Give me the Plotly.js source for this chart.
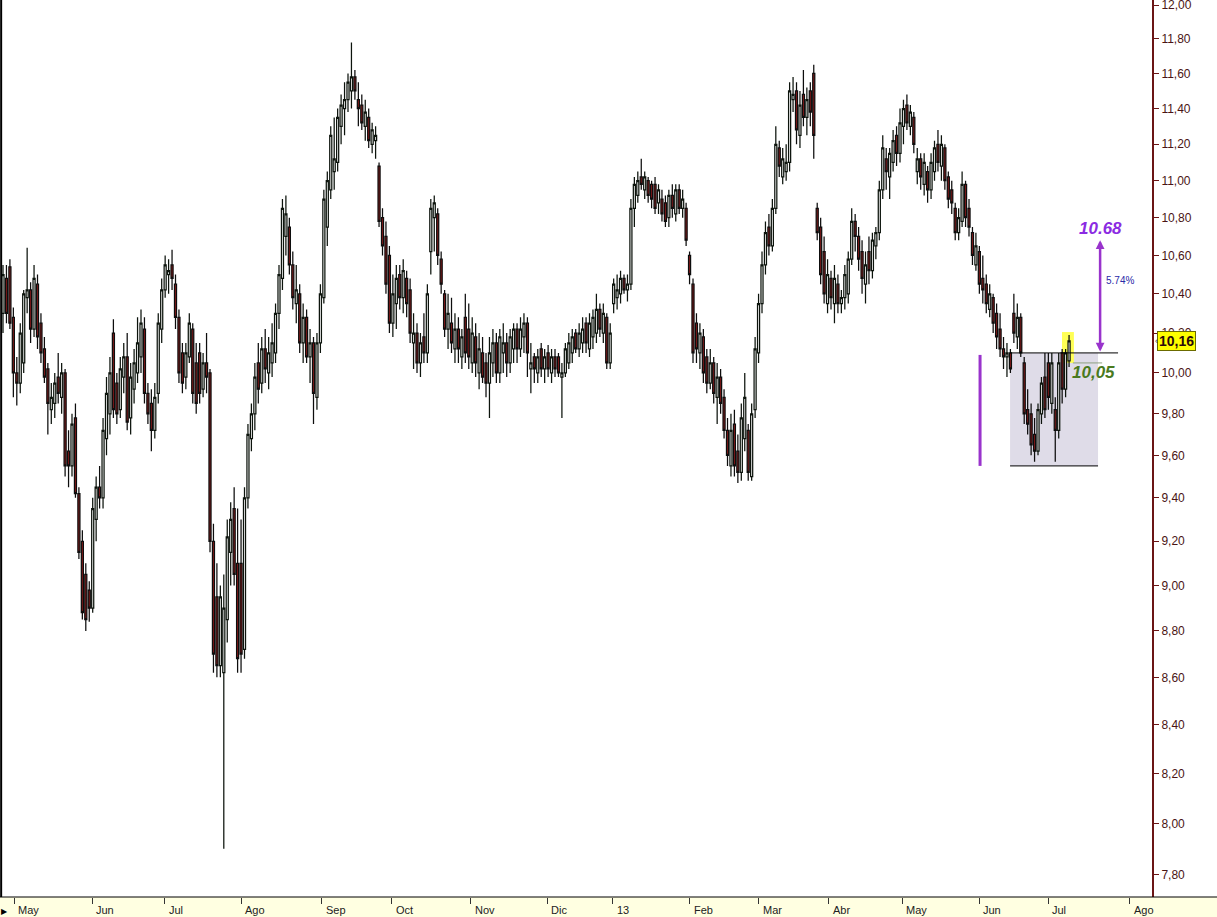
<!DOCTYPE html>
<html><head><meta charset="utf-8">
<script src="https://cdn.plot.ly/plotly-3.0.1.min.js"></script>
<style>html,body{margin:0;padding:0;background:#fff;}#chart{width:1217px;height:917px;}</style>
</head><body><div id="chart"></div>
<script>
// ---- DATA (daily candles, late Apr 2012 .. Jul 2013) ----
const opens = [
 10.30,10.48,10.54,
 10.28,10.00,9.95,10.05,10.38,10.42,10.22,10.45,10.25,10.12,10.02,9.82,9.85,9.98,9.88,10.00,9.62,9.55,9.78,9.42,9.20,9.05,8.98,
 8.90,9.30,9.45,9.40,9.68,9.80,10.20,9.95,9.82,9.98,10.08,9.78,9.92,10.00,10.08,10.22,9.90,9.85,9.72,9.90,10.22,
 10.42,10.50,10.55,10.45,10.28,10.10,9.98,10.08,10.22,10.05,10.10,9.92,10.05,10.00,9.20,8.95,8.65,8.62,8.85,9.15,9.35,9.10,
 9.10,8.72,9.40,9.68,9.80,10.05,9.95,10.12,10.00,10.05,10.10,10.30,10.48,10.70,10.75,10.55,10.35,10.40,10.15,10.28,10.08,10.15,9.88,
 10.15,10.38,10.75,10.95,11.05,11.10,11.30,11.40,11.45,11.50,11.58,11.45,11.42,11.30,11.35,11.20,11.22,11.08,10.80,10.70,
 10.60,10.25,10.35,10.50,10.38,10.48,10.42,10.15,10.20,10.05,10.18,10.10,10.62,10.80,10.82,10.58,10.40,10.22,10.25,10.12,10.22,10.08,10.28,
 10.22,10.05,10.18,10.00,10.10,10.05,9.95,10.05,10.15,10.00,10.10,10.15,10.05,10.12,10.22,10.12,10.18,10.25,10.02,10.08,10.00,10.12,10.02,
 10.10,10.00,10.08,10.08,9.98,10.00,10.05,10.10,10.20,10.12,10.15,10.25,10.12,10.18,10.20,10.32,10.20,10.28,10.05,
 10.35,10.38,10.40,10.48,10.42,10.45,10.85,10.92,11.02,10.95,11.00,10.98,10.98,10.88,10.90,10.88,10.80,10.92,10.82,10.95,10.85,10.85,
 10.60,10.45,10.25,10.10,10.18,10.08,9.95,10.05,9.88,9.98,9.88,9.72,9.55,9.75,9.62,9.52,9.68,9.72,9.50,9.82,
 10.10,10.35,10.55,10.75,10.65,10.85,11.18,11.02,11.05,11.10,11.45,11.50,11.25,11.48,11.35,11.50,11.60,10.85,10.75,10.62,
 10.35,10.48,10.35,10.45,10.35,10.38,10.40,10.58,10.78,10.70,10.62,10.45,10.62,10.52,10.65,10.72,10.95,11.12,11.02,11.10,11.25,11.15,
 11.30,11.42,11.30,11.35,11.05,11.12,10.98,11.05,10.95,11.05,11.20,11.08,11.18,11.02,10.95,10.85,10.72,10.78,10.98,10.85,10.72,10.55,
 10.62,10.48,10.45,10.32,10.38,10.30,10.22,10.12,10.08,10.10,10.30,10.18,10.28,10.05,9.82,9.80,9.70,9.62,9.80,9.98,
 10.05,9.85,9.82,9.72,10.10,9.92,10.06
];
const highs = [
 10.55,10.55,10.58,
 10.33,10.08,10.25,10.42,10.64,10.46,10.55,10.50,10.30,10.18,10.05,9.95,10.00,10.10,10.05,10.02,9.72,9.80,9.85,9.45,9.25,9.10,9.02,
 9.40,9.50,9.55,9.78,9.98,10.08,10.27,10.00,10.08,10.15,10.20,10.05,10.12,10.28,10.32,10.28,9.95,9.92,9.95,10.30,10.48,
 10.60,10.58,10.63,10.50,10.32,10.15,10.15,10.30,10.25,10.15,10.15,10.10,10.20,10.02,9.28,9.10,9.00,9.05,9.30,9.38,9.45,9.35,
 9.30,9.45,9.75,9.85,10.05,10.15,10.18,10.22,10.18,10.25,10.35,10.55,10.90,10.92,10.80,10.62,10.55,10.45,10.35,10.32,10.22,10.18,10.20,
 10.45,10.95,11.05,11.30,11.35,11.40,11.48,11.55,11.60,11.78,11.62,11.55,11.48,11.45,11.40,11.32,11.30,11.10,10.85,10.78,
 10.65,10.50,10.55,10.55,10.58,10.52,10.48,10.30,10.25,10.20,10.30,10.45,10.90,10.92,10.85,10.62,10.42,10.40,10.38,10.30,10.28,10.22,10.40,
 10.35,10.28,10.25,10.20,10.18,10.10,10.18,10.22,10.20,10.22,10.25,10.20,10.22,10.25,10.25,10.28,10.30,10.28,10.15,10.10,10.12,10.15,10.12,
 10.14,10.12,10.12,10.10,10.05,10.15,10.20,10.22,10.22,10.25,10.28,10.28,10.30,10.32,10.40,10.35,10.35,10.30,10.25,
 10.48,10.50,10.52,10.50,10.50,10.90,11.02,11.05,11.12,11.05,11.02,11.00,11.02,10.98,10.95,10.92,10.95,10.98,10.98,10.98,10.95,10.88,
 10.62,10.48,10.30,10.25,10.22,10.12,10.12,10.08,10.05,10.02,9.92,9.78,9.80,9.82,9.70,9.85,10.00,9.75,9.85,10.18,
 10.40,10.62,10.78,10.82,10.90,11.30,11.22,11.18,11.20,11.55,11.58,11.55,11.50,11.62,11.52,11.55,11.65,10.88,10.80,10.70,
 10.58,10.52,10.55,10.50,10.42,10.55,10.62,10.85,10.82,10.75,10.68,10.62,10.70,10.72,10.75,11.00,11.25,11.18,11.18,11.28,11.30,11.40,
 11.45,11.48,11.42,11.38,11.18,11.15,11.15,11.08,11.15,11.22,11.28,11.25,11.20,11.05,11.00,10.88,10.85,11.05,11.00,10.90,10.75,10.72,
 10.65,10.60,10.50,10.45,10.40,10.35,10.30,10.18,10.15,10.12,10.40,10.35,10.30,10.08,9.92,9.85,9.78,9.85,9.98,10.10,
 10.10,10.10,9.88,10.10,10.12,10.12,10.19
];
const lows = [
 10.20,10.25,10.22,
 9.88,9.84,9.90,10.00,10.30,10.15,10.18,10.12,10.05,9.95,9.70,9.75,9.78,9.85,9.80,9.50,9.45,9.50,9.40,9.12,8.85,8.80,8.84,
 8.88,9.20,9.35,9.35,9.60,9.70,9.78,9.75,9.78,9.90,9.72,9.70,9.85,9.95,10.00,9.85,9.75,9.62,9.68,9.85,10.15,
 10.38,10.40,10.42,10.22,9.95,9.90,9.92,10.05,9.85,9.80,9.85,9.88,9.90,9.15,8.62,8.60,8.60,7.90,8.75,9.00,9.00,8.62,
 8.62,8.68,9.35,9.62,9.72,9.85,9.90,9.95,9.92,9.98,10.05,10.22,10.42,10.60,10.50,10.32,10.25,10.10,10.05,10.05,9.95,9.75,9.82,
 10.10,10.35,10.65,10.90,10.95,11.05,11.20,11.25,11.38,11.40,11.45,11.30,11.28,11.22,11.18,11.15,11.12,10.75,10.60,10.40,
 10.20,10.18,10.22,10.32,10.30,10.28,10.15,10.02,10.00,9.98,10.05,10.05,10.50,10.62,10.55,10.40,10.18,10.12,10.10,10.05,10.05,10.02,10.05,
 10.02,10.00,9.98,9.92,9.95,9.88,9.78,9.98,9.95,9.95,10.00,9.98,10.00,10.05,10.05,10.08,10.10,9.98,9.90,9.95,9.95,9.98,9.95,
 9.98,9.95,9.98,9.98,9.78,9.98,10.02,10.05,10.10,10.08,10.10,10.10,10.08,10.12,10.15,10.18,10.15,10.02,10.02,
 10.30,10.32,10.35,10.40,10.36,10.42,10.75,10.88,10.95,10.90,10.88,10.85,10.82,10.82,10.78,10.75,10.75,10.80,10.78,10.82,10.80,10.65,
 10.45,10.05,10.05,10.02,9.95,9.90,9.92,9.85,9.75,9.80,9.68,9.55,9.50,9.50,9.47,9.48,9.62,9.48,9.48,9.78,
 10.05,10.30,10.50,10.60,10.62,10.82,11.02,10.98,11.00,11.05,11.38,11.20,11.18,11.30,11.25,11.30,11.12,10.68,10.45,10.35,
 10.30,10.32,10.25,10.30,10.30,10.32,10.35,10.55,10.62,10.52,10.40,10.35,10.45,10.48,10.58,10.68,10.90,10.95,10.90,11.05,11.08,11.10,
 11.20,11.28,11.25,11.15,10.98,10.95,10.92,10.88,10.90,11.00,11.05,11.00,10.95,10.85,10.82,10.68,10.68,10.75,10.75,10.70,10.55,10.52,
 10.40,10.35,10.30,10.28,10.20,10.12,10.08,10.02,9.98,10.00,10.15,10.12,10.08,9.75,9.70,9.60,9.57,9.60,9.75,9.78,
 9.82,9.80,9.57,9.68,9.85,9.88,10.03
];
const closes = [
 10.50,10.30,10.25,
 10.00,9.95,10.20,10.40,10.42,10.22,10.48,10.18,10.10,9.98,9.85,9.88,9.95,9.90,10.00,9.55,9.55,9.75,9.42,9.15,8.88,8.85,8.90,
 9.35,9.45,9.40,9.72,9.90,10.00,9.82,9.80,10.02,10.08,9.76,9.98,10.05,10.15,10.25,9.90,9.80,9.72,9.88,10.25,10.42,
 10.55,10.52,10.48,10.28,10.00,9.95,10.10,10.25,9.90,9.85,9.90,10.05,9.98,9.20,8.70,8.65,8.95,8.90,9.22,9.30,9.05,8.68,
 8.70,9.40,9.70,9.80,9.98,9.92,10.12,10.02,10.10,10.15,10.30,10.50,10.85,10.82,10.55,10.38,10.42,10.15,10.28,10.08,10.15,9.90,10.15,
 10.40,10.90,11.00,11.25,11.12,11.35,11.42,11.45,11.55,11.58,11.50,11.40,11.32,11.38,11.22,11.28,11.25,10.78,10.65,10.45,
 10.25,10.40,10.48,10.38,10.52,10.35,10.20,10.20,10.05,10.15,10.10,10.40,10.85,10.88,10.60,10.45,10.22,10.30,10.15,10.22,10.12,10.18,10.10,
 10.08,10.20,10.05,10.12,9.98,9.95,10.10,10.15,10.00,10.18,10.15,10.05,10.18,10.22,10.12,10.22,10.25,10.10,10.05,10.02,10.08,10.02,10.08,
 10.02,10.08,10.02,10.00,10.00,10.12,10.15,10.18,10.12,10.20,10.22,10.15,10.25,10.28,10.32,10.22,10.30,10.05,10.20,
 10.45,10.42,10.48,10.42,10.45,10.85,10.98,11.00,10.98,11.02,10.92,10.90,10.85,10.95,10.82,10.78,10.92,10.85,10.95,10.85,10.90,10.68,
 10.50,10.10,10.12,10.20,10.00,9.95,10.05,9.90,9.98,9.85,9.72,9.60,9.72,9.55,9.52,9.78,9.88,9.52,9.80,10.12,
 10.35,10.55,10.72,10.65,10.85,11.20,11.08,11.12,11.10,11.50,11.48,11.28,11.42,11.35,11.45,11.38,11.25,10.72,10.50,10.40,
 10.50,10.38,10.48,10.35,10.38,10.50,10.58,10.78,10.70,10.58,10.48,10.55,10.52,10.68,10.72,10.95,11.18,11.05,11.15,11.22,11.15,11.32,
 11.40,11.32,11.38,11.20,11.12,11.02,11.10,10.95,11.10,11.18,11.10,11.20,11.00,10.90,10.88,10.72,10.80,10.98,10.80,10.75,10.60,10.65,
 10.45,10.42,10.35,10.40,10.25,10.18,10.12,10.08,10.10,10.02,10.20,10.28,10.10,9.80,9.75,9.65,9.62,9.82,9.95,9.82,
 9.88,10.05,9.72,10.05,9.92,10.10,10.16
];
// month labels and their boundary positions (in trading-day index)
const monthLabels = ['May','Jun','Jul','Ago','Sep','Oct','Nov','Dic','13','Feb','Mar','Abr','May','Jun','Jul','Ago'];
const monthTicks  = [3.2,25.8,46.7,69.0,92.2,112.5,135.4,157.7,176.8,199.1,219.1,239.4,260.6,282.9,302.9,326.4];
const priceTicks  = [7.8,8.0,8.2,8.4,8.6,8.8,9.0,9.2,9.4,9.6,9.8,10.0,10.2,10.4,10.6,10.8,11.0,11.2,11.4,11.6,11.8,12.0];
// annotation levels
const boxTop = 10.10, boxBottom = 9.55, target = 10.68, support = 10.05, lastPrice = 10.16, gainPct = '5.74%';
// trading-day positions of drawn objects
const boxStart = 291.9, boxEnd = 317.4, topLineEnd = 323.2, purpleBarX = 283.2, arrowX = 318.0;

const idx = opens.map((_, i) => i);
const L = v => Math.log10(v);
const yLo = 0.88723, yHi = 1.08027;
const purple = '#9933cc';

const trace = {
  type: 'candlestick', x: idx, open: opens, high: highs, low: lows, close: closes,
  increasing: {line: {color: '#0d140d', width: 1.25}, fillcolor: '#ffffff'},
  decreasing: {line: {color: '#0d0d0d', width: 1.25}, fillcolor: '#8b1a1a'},
  whiskerwidth: 0, hoverinfo: 'skip', yaxis: 'y'
};
const dummy = {type: 'scatter', x: [], y: [], yaxis: 'y2', showlegend: false};

const shapes = [
  // bottom date strip
  {type: 'rect', xref: 'paper', yref: 'paper', x0: -0.01, x1: 1.07, y0: -0.03, y1: 0, fillcolor: '#ffffe1', line: {width: 0}, layer: 'below'},
  {type: 'line', xref: 'paper', yref: 'paper', x0: 0, x1: 1.07, y0: 0, y1: 0, line: {color: '#000', width: 1}},
  {type: 'line', xref: 'paper', yref: 'paper', x0: 0.001, x1: 0.001, y0: 0, y1: 1, line: {color: '#000', width: 2}},
  // consolidation box
  {type: 'rect', xref: 'x', yref: 'y2', x0: boxStart, x1: boxEnd, y0: L(boxBottom), y1: L(boxTop), fillcolor: '#dfdce8', line: {width: 0}, layer: 'below'},
  {type: 'rect', xref: 'x', yref: 'y2', x0: 306.96, x1: 310.4, y0: L(10.05), y1: L(10.205), fillcolor: '#ffff55', line: {width: 0}, layer: 'below'},
  {type: 'line', xref: 'x', yref: 'y2', x0: boxStart, x1: topLineEnd, y0: L(boxTop), y1: L(boxTop), line: {color: '#000', width: 1}},
  {type: 'line', xref: 'x', yref: 'y2', x0: boxStart, x1: boxEnd, y0: L(boxBottom), y1: L(boxBottom), line: {color: '#000', width: 1}},
  {type: 'line', xref: 'x', yref: 'y2', x0: 310.1, x1: 318.6, y0: L(support), y1: L(support), line: {color: '#8fa080', width: 1}},
  {type: 'line', xref: 'x', yref: 'y2', x0: purpleBarX, x1: purpleBarX, y0: L(boxBottom), y1: L(10.09), line: {color: purple, width: 3}}
];

const annotations = [
  {xref: 'x', yref: 'y2', x: arrowX, y: L(target), ax: arrowX, ay: L(boxTop), axref: 'x', ayref: 'y2', text: '', showarrow: true,
   arrowhead: 2, startarrowhead: 2, arrowside: 'end+start', arrowsize: 0.7, startarrowsize: 0.7, arrowwidth: 2.5, arrowcolor: purple},
  {xref: 'x', yref: 'y2', x: arrowX, y: L(10.74), text: '<b><i>10.68</i></b>', showarrow: false, xanchor: 'center', yanchor: 'middle',
   font: {family: 'Liberation Sans, Arial, sans-serif', size: 17, color: '#8b2be2'}},
  {xref: 'x', yref: 'y2', x: 323.8, y: L(10.47), text: gainPct, showarrow: false, xanchor: 'center', yanchor: 'middle',
   font: {family: 'Liberation Sans, Arial, sans-serif', size: 10, color: '#2a2aa8'}},
  {xref: 'x', yref: 'y2', x: 309.4, y: L(10.00), text: '<b><i>10,05</i></b>', showarrow: false, xanchor: 'left', yanchor: 'middle',
   font: {family: 'Liberation Sans, Arial, sans-serif', size: 17, color: '#4a7a1e'}},
  {xref: 'paper', yref: 'y2', x: 1.0045, y: L(lastPrice), text: '<b>10,16</b>', showarrow: false, xanchor: 'left', yanchor: 'middle',
   bgcolor: '#ffff00', bordercolor: '#6b6b00', borderwidth: 1, borderpad: 1,
   font: {family: 'Liberation Sans, Arial, sans-serif', size: 14, color: '#2a0a0a'}},
  {xref: 'paper', yref: 'y2', x: 1.0005, y: L(lastPrice), text: '‹', showarrow: false, xanchor: 'left', yanchor: 'middle',
   font: {family: 'Liberation Sans, Arial, sans-serif', size: 9, color: '#333'}},
  {xref: 'paper', yref: 'paper', x: -0.001, y: -0.0145, text: '▶', showarrow: false, xanchor: 'left', yanchor: 'middle',
   font: {size: 8, color: '#000'}}
];
monthLabels.forEach((m, k) => annotations.push({
  xref: 'x', yref: 'paper', x: monthTicks[k] + 0.7, y: -0.0145, text: m, showarrow: false, xanchor: 'left', yanchor: 'middle',
  font: {family: 'Liberation Sans, Arial, sans-serif', size: 11, color: '#222'}
}));

const layout = {
  width: 1217, height: 917,
  margin: {l: 0, r: 65, t: 0, b: 20, pad: 0},
  paper_bgcolor: '#ffffff', plot_bgcolor: '#ffffff',
  separators: ',.',
  showlegend: false, dragmode: false,
  boxgap: 0.15,
  xaxis: {range: [-0.87, 333.04], showgrid: false, zeroline: false, showline: false,
    tickmode: 'array', tickvals: monthTicks, showticklabels: false, ticks: 'outside', ticklen: 6, tickcolor: '#333', tickwidth: 1,
    rangeslider: {visible: false}, fixedrange: true, automargin: false},
  yaxis: {type: 'log', side: 'right', range: [yLo, yHi], showgrid: false, zeroline: false,
    tickmode: 'array', tickvals: priceTicks, tickformat: '.2f', ticks: 'outside', ticklen: 5, tickcolor: '#6b1515',
    ticklabeloverflow: 'allow',
    showline: true, linecolor: '#6b1515', linewidth: 2, automargin: false, fixedrange: true,
    tickfont: {family: 'Liberation Sans, Arial, sans-serif', size: 12, color: '#4a1414'}},
  yaxis2: {overlaying: 'y', side: 'left', range: [yLo, yHi], visible: false, fixedrange: true},
  shapes: shapes, annotations: annotations
};
Plotly.newPlot('chart', [trace, dummy], layout, {staticPlot: true, displayModeBar: false});
</script>
</body></html>
